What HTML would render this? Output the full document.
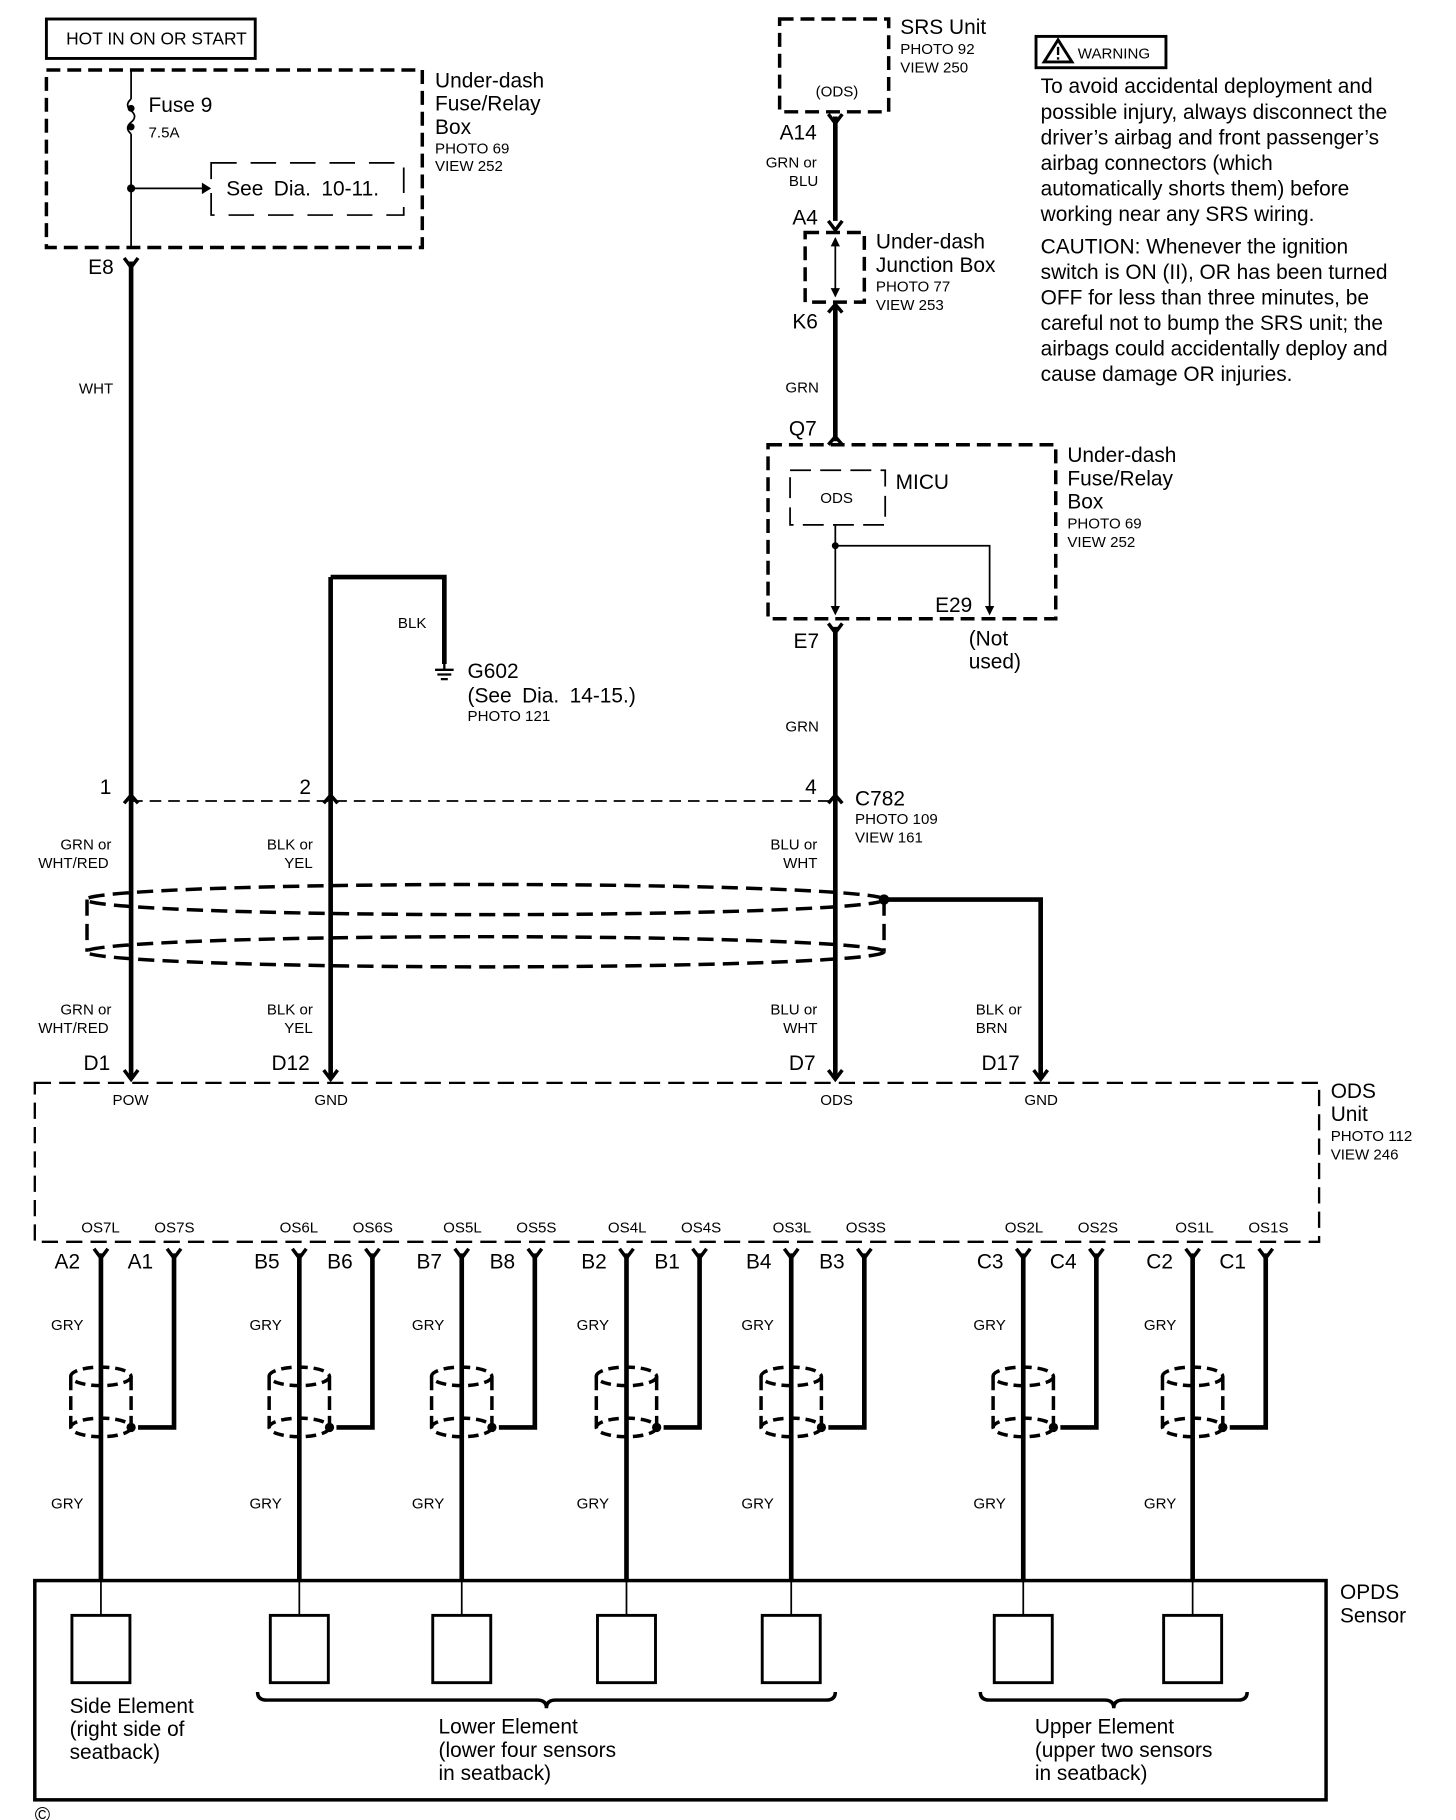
<!DOCTYPE html>
<html><head><meta charset="utf-8"><style>
html,body{margin:0;padding:0;background:#fff}
svg{display:block}
text{font-family:"Liberation Sans",Arial,sans-serif;fill:#000}
.b{font-size:18px}.s{font-size:13px}.m{font-size:15px}
</style></head><body>
<svg width="1456" height="1820" viewBox="0 0 1255 1568" xmlns="http://www.w3.org/2000/svg">
<defs>
<g id="cyl">
<ellipse cx="0" cy="-22" rx="26" ry="8" fill="none" stroke="#000" stroke-width="3" stroke-dasharray="9,5"/>
<ellipse cx="0" cy="22" rx="26" ry="8" fill="none" stroke="#000" stroke-width="3" stroke-dasharray="9,5"/>
<line x1="-26" y1="-22" x2="-26" y2="22" stroke="#000" stroke-width="3" stroke-dasharray="12,5"/>
<line x1="26" y1="-22" x2="26" y2="22" stroke="#000" stroke-width="3" stroke-dasharray="12,5"/>
<circle cx="26" cy="22" r="4"/>
</g>
<path id="fork" d="M-6,-6 L0,2 L6,-6" fill="none" stroke="#000" stroke-width="3"/>
<path id="caret" d="M-6,4 L0,-3 L6,4" fill="none" stroke="#000" stroke-width="3"/>
</defs>
<g stroke="#000" fill="none">
<rect x="40" y="16" width="180" height="34" stroke-width="2.5"/>
<rect x="40" y="60" width="324" height="153" stroke-width="3" stroke-dasharray="12,6"/>
<path d="M113,60 V85 M113,115 V213" stroke-width="1.5"/>
<path d="M113,85 q-6,5 0,10 q6,5 0,10 q-6,5 0,10" stroke-width="1.5"/>
<path d="M113,162 H175" stroke-width="1.5"/>
<rect x="182" y="140" width="166" height="45" stroke-width="1.5" stroke-dasharray="22,12"/>
<path d="M113,225 V928" stroke-width="4"/>
<path d="M285,497 H383 V572" stroke-width="4"/>
<path d="M285,497 V928" stroke-width="4"/>
<rect x="672" y="16" width="94" height="80" stroke-width="3" stroke-dasharray="12,6"/>
<path d="M720,100 V190 M720,262 V380 M720,540 V928" stroke-width="4"/>
<rect x="694" y="200" width="51" height="60" stroke-width="3" stroke-dasharray="12,6"/>
<path d="M720,205 V255" stroke-width="1.5"/>
<rect x="662" y="383" width="248" height="150" stroke-width="3" stroke-dasharray="12,6"/>
<rect x="681" y="405" width="82" height="47" stroke-width="1.5" stroke-dasharray="18,8"/>
<path d="M720,452 V528 M720,470 H853 V528" stroke-width="1.5"/>
<path d="M113,690 H720" stroke-width="1.5" stroke-dasharray="10,6"/>
<ellipse cx="418" cy="775" rx="344" ry="13" stroke-width="3" stroke-dasharray="14,7"/>
<ellipse cx="418" cy="820" rx="344" ry="13" stroke-width="3" stroke-dasharray="14,7"/>
<path d="M75,775 V820 M762,775 V820" stroke-width="3" stroke-dasharray="14,7"/>
<path d="M762,775 H897 V928" stroke-width="4"/>
<rect x="30" y="933" width="1107" height="137" stroke-width="2" stroke-dasharray="14,7"/>
<rect x="30" y="1362" width="1113" height="189" stroke-width="3"/>
<path d="M222,1458 q0,7 8,7 H463 q8,0 8,7 q0,-7 8,-7 H712 q8,0 8,-7" stroke-width="3"/>
<path d="M845,1458 q0,7 8,7 H952 q8,0 8,7 q0,-7 8,-7 H1067 q8,0 8,-7" stroke-width="3"/>
</g>
<circle cx="113" cy="93" r="3"/><circle cx="113" cy="109" r="3"/><circle cx="113" cy="162" r="3.5"/>
<path d="M174,157 L182,162 L174,167 Z"/>
<circle cx="720" cy="470" r="3"/><circle cx="762" cy="775" r="4.5"/>
<path d="M716,522 L720,530 L724,522Z M849,522 L853,530 L857,522Z M716,212 L720,204 L724,212Z M716,248 L720,256 L724,248Z"/>
<g stroke="#000" stroke-width="2"><path d="M383,572 V577 M375,577 H391 M377,581 H389 M380,585 H386"/></g>
<use href="#fork" x="113" y="228"/><use href="#fork" x="720" y="104"/><use href="#fork" x="720" y="196"/>
<use href="#caret" x="720" y="265"/><use href="#caret" x="720" y="379"/><use href="#fork" x="720" y="543"/>
<use href="#caret" x="113" y="688"/><use href="#caret" x="285" y="688"/><use href="#caret" x="720" y="688"/>
<use href="#fork" x="113" y="928"/><use href="#fork" x="285" y="928"/><use href="#fork" x="720" y="928"/><use href="#fork" x="897" y="928"/>
<text x="57" y="38" class="m">HOT IN ON OR START</text>
<text x="128" y="96" class="b">Fuse 9</text><text x="128" y="118" class="s">7.5A</text>
<text x="195" y="168" class="b" word-spacing="4">See Dia. 10-11.</text>
<text x="375" y="75" class="b">Under-dash</text><text x="375" y="95" class="b">Fuse/Relay</text><text x="375" y="115" class="b">Box</text>
<text x="375" y="132" class="s">PHOTO 69</text><text x="375" y="147" class="s">VIEW 252</text>
<text x="76" y="236" class="b">E8</text>
<text x="68" y="339" class="s">WHT</text>
<text x="343" y="541" class="s">BLK</text>
<text x="403" y="584" class="b">G602</text><text x="403" y="605" class="b" word-spacing="4">(See Dia. 14-15.)</text><text x="403" y="621" class="s">PHOTO 121</text>
<text x="703" y="83" class="s">(ODS)</text>
<text x="776" y="29" class="b">SRS Unit</text><text x="776" y="46" class="s">PHOTO 92</text><text x="776" y="62" class="s">VIEW 250</text>
<text x="672" y="120" class="b">A14</text>
<text x="660" y="144" class="s">GRN or</text><text x="680" y="160" class="s">BLU</text>
<text x="683" y="193" class="b">A4</text>
<text x="755" y="214" class="b">Under-dash</text><text x="755" y="234" class="b">Junction Box</text>
<text x="755" y="251" class="s">PHOTO 77</text><text x="755" y="267" class="s">VIEW 253</text>
<text x="683" y="283" class="b">K6</text><text x="677" y="338" class="s">GRN</text><text x="680" y="375" class="b">Q7</text>
<text x="707" y="433" class="s">ODS</text><text x="772" y="421" class="b">MICU</text>
<text x="920" y="398" class="b">Under-dash</text><text x="920" y="418" class="b">Fuse/Relay</text><text x="920" y="438" class="b">Box</text>
<text x="920" y="455" class="s">PHOTO 69</text><text x="920" y="471" class="s">VIEW 252</text>
<text x="806" y="527" class="b">E29</text><text x="835" y="556" class="b">(Not</text><text x="835" y="576" class="b">used)</text>
<text x="684" y="558" class="b">E7</text><text x="677" y="630" class="s">GRN</text>
<rect x="893" y="31" width="112" height="27" fill="none" stroke="#000" stroke-width="2.5"/>
<path d="M900,53 L912,34 L924,53 Z" fill="none" stroke="#000" stroke-width="2.5"/><path d="M912,40 V47 M912,49 V51" stroke="#000" stroke-width="2"/>
<text x="929" y="50" class="s">WARNING</text>
<g class="b">
<text x="897" y="80">To avoid accidental deployment and</text>
<text x="897" y="102">possible injury, always disconnect the</text>
<text x="897" y="124">driver’s airbag and front passenger’s</text>
<text x="897" y="146">airbag connectors (which</text>
<text x="897" y="168">automatically shorts them) before</text>
<text x="897" y="190">working near any SRS wiring.</text>
<text x="897" y="218">CAUTION: Whenever the ignition</text>
<text x="897" y="240">switch is ON (II), OR has been turned</text>
<text x="897" y="262">OFF for less than three minutes, be</text>
<text x="897" y="284">careful not to bump the SRS unit; the</text>
<text x="897" y="306">airbags could accidentally deploy and</text>
<text x="897" y="328">cause damage OR injuries.</text>
</g>
<text x="86" y="684" class="b">1</text><text x="258" y="684" class="b">2</text><text x="694" y="684" class="b">4</text>
<text x="737" y="694" class="b">C782</text><text x="737" y="710" class="s">PHOTO 109</text><text x="737" y="726" class="s">VIEW 161</text>
<text x="52" y="732" class="s">GRN or</text><text x="33" y="748" class="s">WHT/RED</text>
<text x="230" y="732" class="s">BLK or</text><text x="245" y="748" class="s">YEL</text>
<text x="664" y="732" class="s">BLU or</text><text x="675" y="748" class="s">WHT</text>
<text x="52" y="874" class="s">GRN or</text><text x="33" y="890" class="s">WHT/RED</text>
<text x="230" y="874" class="s">BLK or</text><text x="245" y="890" class="s">YEL</text>
<text x="664" y="874" class="s">BLU or</text><text x="675" y="890" class="s">WHT</text>
<text x="841" y="874" class="s">BLK or</text><text x="841" y="890" class="s">BRN</text>
<text x="72" y="922" class="b">D1</text><text x="234" y="922" class="b">D12</text><text x="680" y="922" class="b">D7</text><text x="846" y="922" class="b">D17</text>
<text x="97" y="952" class="s">POW</text><text x="271" y="952" class="s">GND</text><text x="707" y="952" class="s">ODS</text><text x="883" y="952" class="s">GND</text>
<text x="1147" y="946" class="b">ODS</text><text x="1147" y="966" class="b">Unit</text><text x="1147" y="983" class="s">PHOTO 112</text><text x="1147" y="999" class="s">VIEW 246</text>
<text x="1155" y="1378" class="b">OPDS</text><text x="1155" y="1398" class="b">Sensor</text>
<text x="60" y="1476" class="b">Side Element</text><text x="60" y="1496" class="b">(right side of</text><text x="60" y="1516" class="b">seatback)</text>
<text x="378" y="1494" class="b">Lower Element</text><text x="378" y="1514" class="b">(lower four sensors</text><text x="378" y="1534" class="b">in seatback)</text>
<text x="892" y="1494" class="b">Upper Element</text><text x="892" y="1514" class="b">(upper two sensors</text><text x="892" y="1534" class="b">in seatback)</text>
<text x="30" y="1570" class="b">©</text>
<g>
<g transform="translate(87,0)">
<path d="M0,1080 V1362" stroke="#000" stroke-width="4"/><path d="M0,1362 V1392" stroke="#000" stroke-width="1.5"/>
<path d="M63,1080 V1230 H32" fill="none" stroke="#000" stroke-width="4"/>
<use href="#cyl" y="1208"/><use href="#fork" y="1082"/><use href="#fork" x="63" y="1082"/>
<rect x="-25" y="1392" width="50" height="58" fill="none" stroke="#000" stroke-width="2.5"/>
<text x="-43" y="1146" class="s">GRY</text><text x="-43" y="1300" class="s">GRY</text>
<text x="-17" y="1062" class="s">OS7L</text><text x="46" y="1062" class="s">OS7S</text>
<text x="-40" y="1093" class="b">A2</text><text x="23" y="1093" class="b">A1</text>
</g>
<g transform="translate(258,0)">
<path d="M0,1080 V1362" stroke="#000" stroke-width="4"/><path d="M0,1362 V1392" stroke="#000" stroke-width="1.5"/>
<path d="M63,1080 V1230 H32" fill="none" stroke="#000" stroke-width="4"/>
<use href="#cyl" y="1208"/><use href="#fork" y="1082"/><use href="#fork" x="63" y="1082"/>
<rect x="-25" y="1392" width="50" height="58" fill="none" stroke="#000" stroke-width="2.5"/>
<text x="-43" y="1146" class="s">GRY</text><text x="-43" y="1300" class="s">GRY</text>
<text x="-17" y="1062" class="s">OS6L</text><text x="46" y="1062" class="s">OS6S</text>
<text x="-39" y="1093" class="b">B5</text><text x="24" y="1093" class="b">B6</text>
</g>
<g transform="translate(398,0)">
<path d="M0,1080 V1362" stroke="#000" stroke-width="4"/><path d="M0,1362 V1392" stroke="#000" stroke-width="1.5"/>
<path d="M63,1080 V1230 H32" fill="none" stroke="#000" stroke-width="4"/>
<use href="#cyl" y="1208"/><use href="#fork" y="1082"/><use href="#fork" x="63" y="1082"/>
<rect x="-25" y="1392" width="50" height="58" fill="none" stroke="#000" stroke-width="2.5"/>
<text x="-43" y="1146" class="s">GRY</text><text x="-43" y="1300" class="s">GRY</text>
<text x="-16" y="1062" class="s">OS5L</text><text x="47" y="1062" class="s">OS5S</text>
<text x="-39" y="1093" class="b">B7</text><text x="24" y="1093" class="b">B8</text>
</g>
<g transform="translate(540,0)">
<path d="M0,1080 V1362" stroke="#000" stroke-width="4"/><path d="M0,1362 V1392" stroke="#000" stroke-width="1.5"/>
<path d="M63,1080 V1230 H32" fill="none" stroke="#000" stroke-width="4"/>
<use href="#cyl" y="1208"/><use href="#fork" y="1082"/><use href="#fork" x="63" y="1082"/>
<rect x="-25" y="1392" width="50" height="58" fill="none" stroke="#000" stroke-width="2.5"/>
<text x="-43" y="1146" class="s">GRY</text><text x="-43" y="1300" class="s">GRY</text>
<text x="-16" y="1062" class="s">OS4L</text><text x="47" y="1062" class="s">OS4S</text>
<text x="-39" y="1093" class="b">B2</text><text x="24" y="1093" class="b">B1</text>
</g>
<g transform="translate(682,0)">
<path d="M0,1080 V1362" stroke="#000" stroke-width="4"/><path d="M0,1362 V1392" stroke="#000" stroke-width="1.5"/>
<path d="M63,1080 V1230 H32" fill="none" stroke="#000" stroke-width="4"/>
<use href="#cyl" y="1208"/><use href="#fork" y="1082"/><use href="#fork" x="63" y="1082"/>
<rect x="-25" y="1392" width="50" height="58" fill="none" stroke="#000" stroke-width="2.5"/>
<text x="-43" y="1146" class="s">GRY</text><text x="-43" y="1300" class="s">GRY</text>
<text x="-16" y="1062" class="s">OS3L</text><text x="47" y="1062" class="s">OS3S</text>
<text x="-39" y="1093" class="b">B4</text><text x="24" y="1093" class="b">B3</text>
</g>
<g transform="translate(882,0)">
<path d="M0,1080 V1362" stroke="#000" stroke-width="4"/><path d="M0,1362 V1392" stroke="#000" stroke-width="1.5"/>
<path d="M63,1080 V1230 H32" fill="none" stroke="#000" stroke-width="4"/>
<use href="#cyl" y="1208"/><use href="#fork" y="1082"/><use href="#fork" x="63" y="1082"/>
<rect x="-25" y="1392" width="50" height="58" fill="none" stroke="#000" stroke-width="2.5"/>
<text x="-43" y="1146" class="s">GRY</text><text x="-43" y="1300" class="s">GRY</text>
<text x="-16" y="1062" class="s">OS2L</text><text x="47" y="1062" class="s">OS2S</text>
<text x="-40" y="1093" class="b">C3</text><text x="23" y="1093" class="b">C4</text>
</g>
<g transform="translate(1028,0)">
<path d="M0,1080 V1362" stroke="#000" stroke-width="4"/><path d="M0,1362 V1392" stroke="#000" stroke-width="1.5"/>
<path d="M63,1080 V1230 H32" fill="none" stroke="#000" stroke-width="4"/>
<use href="#cyl" y="1208"/><use href="#fork" y="1082"/><use href="#fork" x="63" y="1082"/>
<rect x="-25" y="1392" width="50" height="58" fill="none" stroke="#000" stroke-width="2.5"/>
<text x="-42" y="1146" class="s">GRY</text><text x="-42" y="1300" class="s">GRY</text>
<text x="-15" y="1062" class="s">OS1L</text><text x="48" y="1062" class="s">OS1S</text>
<text x="-40" y="1093" class="b">C2</text><text x="23" y="1093" class="b">C1</text>
</g>
</g>
</svg>
</body></html>
